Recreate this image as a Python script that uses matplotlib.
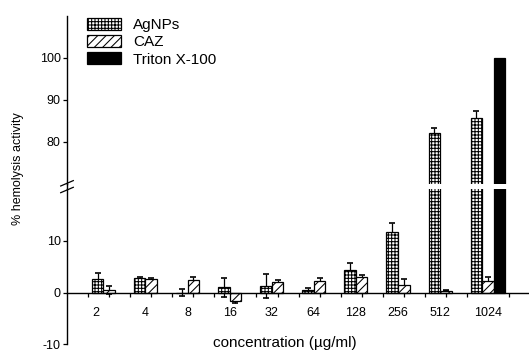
import numpy as np
import matplotlib.pyplot as plt
from matplotlib.lines import Line2D

plt.rcParams['font.family'] = ['Liberation Sans', 'DejaVu Sans']
plt.rcParams['hatch.linewidth'] = 0.75
plt.rcParams['axes.unicode_minus'] = False

# data (% hemolysis)
conc = ['2', '4', '8', '16', '32', '64', '128', '256', '512', '1024']
agnps = [2.7, 2.8, 0.0, 1.0, 1.3, 0.5, 4.3, 11.8, 82.2, 85.7]
agnps_err = [1.0, 0.2, 0.7, 1.9, 2.3, 0.4, 1.4, 1.6, 1.1, 1.8]
caz = [0.5, 2.6, 2.5, -1.6, 2.0, 2.2, 3.0, 1.5, 0.4, 2.2]
caz_err = [0.7, 0.3, 0.5, 0.3, 0.35, 0.6, 0.5, 1.1, 0.15, 0.8]
triton = [100.0]
triton_conc = ['1024']

W, H = 529, 352
fig = plt.figure(figsize=(W / 100, H / 100), dpi=100)


def fx(px):
    return px / W


def fy(px):
    return 1 - px / H


left, right = 67, 528
lo_bottom = 344.5
ax_hi = fig.add_axes([fx(left), fy(184), fx(right - left), (184 - 16) / H])
ax_lo = fig.add_axes([fx(left), fy(lo_bottom), fx(right - left), (lo_bottom - 189) / H])

x = np.arange(len(conc))
w = 0.275
xt = np.array([conc.index(c) for c in triton_conc])

handles = None
for ax in (ax_hi, ax_lo):
    b1 = ax.bar(x - w, agnps, w, facecolor='white', edgecolor='black',
                hatch='+++++', lw=0.9, zorder=2, label='AgNPs')
    b2 = ax.bar(x, caz, w, facecolor='white', edgecolor='black',
                hatch='////', lw=0.9, zorder=2, label='CAZ')
    b3 = ax.bar(xt + w, triton, w, facecolor='black', edgecolor='black',
                lw=0.9, zorder=2, label='Triton X-100')
    ax.errorbar(x - w, agnps, yerr=agnps_err, fmt='none', ecolor='black',
                elinewidth=0.9, capsize=2.5, capthick=1.2, zorder=1)
    ax.errorbar(x, caz, yerr=caz_err, fmt='none', ecolor='black',
                elinewidth=0.9, capsize=2.5, capthick=1.2, zorder=1)
    ax.set_xlim(-1.0, 9.95)
    for s in ('top', 'right'):
        ax.spines[s].set_visible(False)
    ax.spines['left'].set_linewidth(1.0)
    ax.tick_params(axis='y', direction='out', length=3, width=0.9, pad=1.5,
                   labelsize=9)
    if handles is None:
        handles = [b1, b2, b3]

# upper panel
ax_hi.set_ylim(70, 110)
ax_hi.set_yticks([80, 90, 100])
ax_hi.spines['bottom'].set_visible(False)
ax_hi.xaxis.set_visible(False)

# lower panel
ax_lo.set_ylim(-10, 20)
ax_lo.set_yticks([-10, 0, 10])
ax_lo.spines['bottom'].set_position(('data', 0))
ax_lo.spines['bottom'].set_linewidth(1.0)
label_x = x - w / 2
label_x[-1] = x[-1]
label_x[0] -= 0.17
ax_lo.set_xticks(label_x, conc)
ax_lo.tick_params(axis='x', which='major', length=0, pad=10.5, labelsize=9)
ax_lo.set_xticks(np.concatenate([x, np.arange(len(conc) + 1) - 0.5]), minor=True)
ax_lo.tick_params(axis='x', which='minor', direction='out', length=3, width=0.9)

# continuous y axis line through the break, with break marks
fig.add_artist(Line2D([fx(left)] * 2, [fy(184), fy(189)], color='black', lw=1.0))
for y0 in (186, 192.7):
    fig.add_artist(Line2D([fx(60.7), fx(73.3)], [fy(y0), fy(y0 - 5.4)],
                          color='black', lw=0.9))

leg = ax_hi.legend(handles=handles, loc='upper left',
                   bbox_to_anchor=(fx(87), fy(18)), bbox_transform=fig.transFigure,
                   frameon=False, fontsize=11, borderpad=0, borderaxespad=0,
                   handlelength=2.22, handleheight=0.82, handletextpad=0.78,
                   labelspacing=0.19)

fig.text(fx(18), fy(169), '% hemolysis activity', rotation=90,
         ha='center', va='center', fontsize=9)
fig.text(fx(285), fy(347), 'concentration (µg/ml)', ha='center',
         va='baseline', fontsize=11)

fig.savefig('out.png', dpi=100)
